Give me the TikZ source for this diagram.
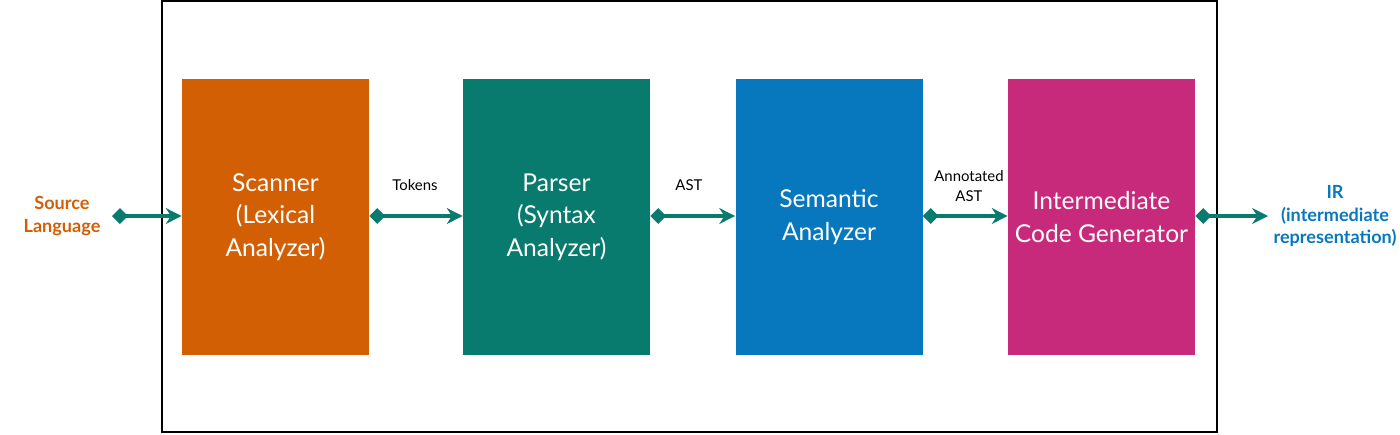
\documentclass[tikz,border=0pt]{standalone}
\usepackage{fontspec}
\setmainfont{Lato}
\usetikzlibrary{positioning,arrows.meta}
\definecolor{scanorange}{HTML}{D35F05}
\definecolor{parseteal}{HTML}{087A6E}
\definecolor{semblue}{HTML}{0878BE}
\definecolor{genpink}{HTML}{C72A7B}
\tikzset{
  phase/.style={minimum width=3.74cm, minimum height=5.52cm, inner sep=0pt,
    text=white, align=center, font=\fontsize{14}{18.5}\selectfont},
  flow/.style={draw=parseteal, line width=2pt, {Diamond[length=9pt,width=9pt]}-{Stealth[length=9pt,width=9pt]}},
  lbl/.style={align=center, font=\fontsize{8.5}{11}\selectfont}
}
\begin{document}
\begin{tikzpicture}
  \useasboundingbox (0,0) rectangle (28,-8.68);
  \draw[line width=1pt] (3.24,-0.02) rectangle (24.34,-8.64);

  \node[phase, fill=scanorange] (scan) at (5.51,-4.34) {Scanner\\(Lexical\\Analyzer)};
  \node[phase, fill=parseteal] (parse) at (11.13,-4.34) {Parser\\(Syntax\\Analyzer)};
  \node[phase, fill=semblue] (sem) at (16.58,-4.34) {Semantic\\Analyzer};
  \node[phase, fill=genpink] (gen) at (22.03,-4.34) {Intermediate\\Code Generator};

  \node[align=center, text=scanorange, font=\bfseries\fontsize{10.3}{13}\selectfont] (src) at (1.24,-4.32) {Source\\Language};
  \node[align=center, text=semblue, font=\bfseries\fontsize{10.3}{13}\selectfont] (ir) at (26.7,-4.32) {IR\\(intermediate\\representation)};

  \coordinate (srcend) at (2.24,-4.32);
  \coordinate (irend) at (25.36,-4.32);

  \node[lbl] (tok) at (8.3,-3.7) {Tokens};
  \node[lbl] (ast) at (13.78,-3.7) {AST};
  \node[lbl] (aast) at (19.38,-3.72) {Annotated\\AST};

  \draw[flow] (srcend) -- (scan.west |- srcend);
  \draw[flow] (scan.east |- srcend) -- (parse.west |- srcend);
  \draw[flow] (parse.east |- srcend) -- (sem.west |- srcend);
  \draw[flow] (sem.east |- srcend) -- (gen.west |- srcend);
  \draw[flow] (gen.east |- srcend) -- (irend);
\end{tikzpicture}
\end{document}
